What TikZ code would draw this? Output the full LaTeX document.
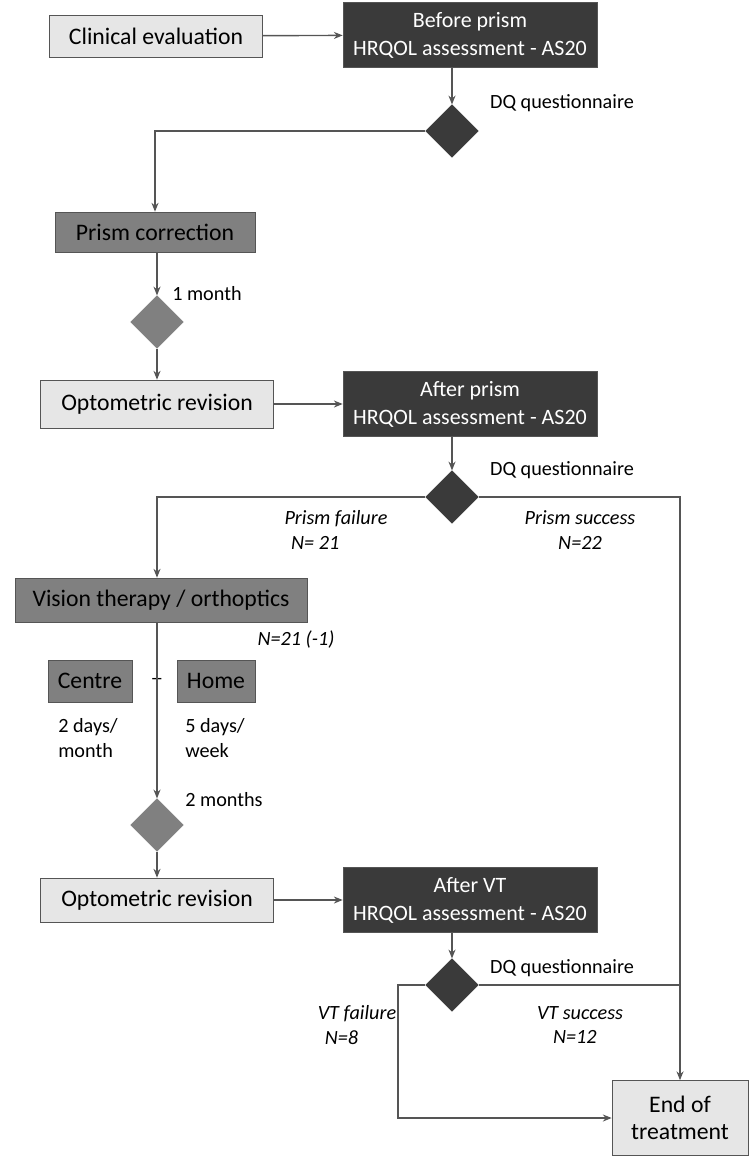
\documentclass[tikz,border=0pt]{standalone}
\usepackage{fontspec}
\setmainfont{Carlito}
\usetikzlibrary{calc, positioning, arrows.meta, shapes.geometric}
\definecolor{lightbox}{HTML}{E6E6E6}
\definecolor{midbox}{HTML}{808080}
\definecolor{darkbox}{HTML}{3A3A3A}
\definecolor{edge}{HTML}{555555}
\begin{document}
\begin{tikzpicture}[
  x=0.02cm, y=-0.02cm,
  light/.style={rectangle, draw=edge, fill=lightbox, font=\fontsize{13.5}{15}\selectfont, inner sep=0pt},
  mid/.style={rectangle, draw=edge, fill=midbox, font=\fontsize{13.5}{15}\selectfont, inner sep=0pt},
  dark/.style={rectangle, draw=edge, fill=darkbox, text=white, font=\fontsize{12.5}{16}\selectfont, align=center, inner sep=0pt, minimum width=5.08cm, minimum height=1.3cm},
  dec/.style={diamond, draw=#1, fill=#1, minimum size=1.05cm, inner sep=0pt},
  lab/.style={font=\fontsize{11.5}{14}\selectfont},
  ilab/.style={font=\fontsize{11.5}{14}\itshape\selectfont, align=center},
  >={Stealth[length=5pt, width=4pt]},
  line/.style={draw=edge, thick}
]
\useasboundingbox (0,0) rectangle (750,1163);

% Top row
\node[light, minimum width=4.26cm, minimum height=0.84cm] (clin) at (156,36) {Clinical evaluation};
\node[dark] (before) at (470,35) {Before prism\\HRQOL assessment - AS20};
\node[dec=darkbox] (d1) at (452,131) {};
\node[lab] at (562,103) {DQ questionnaire};

% Prism correction
\node[mid, minimum width=4cm, minimum height=0.8cm] (prism) at (155,232) {Prism correction};
\node[dec=midbox] (d2) at (157,322) {};
\node[lab] at (207,294) {1 month};
\node[light, minimum width=4.66cm, minimum height=0.96cm] (opt1) at (157,404) {Optometric revision};
\node[dark] (after) at (470,404) {After prism\\HRQOL assessment - AS20};
\node[dec=darkbox] (d3) at (452,497) {};
\node[lab] at (562,470) {DQ questionnaire};
\node[ilab] at (336,530) {Prism failure\\N= 21\phantom{aaaa}};
\node[ilab] at (580,530) {Prism success\\N=22};

% Vision therapy
\node[mid, minimum width=5.84cm, minimum height=0.88cm] (vt) at (161,600) {Vision therapy / orthoptics};
\node[ilab] at (296,640) {N=21 (-1)};
\node[mid, minimum width=1.68cm, minimum height=0.84cm] (centre) at (90,681) {Centre};
\node[lab] at (157,680) {+};
\node[mid, minimum width=1.56cm, minimum height=0.84cm] (home) at (216,681) {Home};
\node[lab, align=left] at (88,738) {2 days/\\month};
\node[lab, align=left] at (215,738) {5 days/\\week};
\node[dec=midbox] (d4) at (157,825) {};
\node[lab] at (224,800) {2 months};
\node[light, minimum width=4.66cm, minimum height=0.88cm] (opt2) at (157,900) {Optometric revision};
\node[dark] (afterVT) at (470,900) {After VT\\HRQOL assessment - AS20};
\node[dec=darkbox] (d5) at (452,985) {};
\node[lab] at (562,968) {DQ questionnaire};
\node[ilab] at (357,1025) {VT failure\\N=8\phantom{aaa}};
\node[ilab] at (580,1025) {VT success\\N=12\phantom{a}};

% End
\node[light, align=center, minimum width=2.72cm, minimum height=1.5cm] (end) at (680,1118) {End of\\treatment};

\coordinate (c1) at (155,131);
\coordinate (c3) at (157,497);
\coordinate (r3) at (680,497);
\coordinate (c5) at (398,985);
\coordinate (r5) at (680,985);
\coordinate (b5) at (398,1118);

% Connectors
\draw[line,->] (clin) -- (before);
\draw[line,->] (before.south -| d1) -- (d1.north);
\draw[line,->] (d1.west) -- (c1) -- (prism.north -| c1);
\draw[line,->] (prism.south -| d2) -- (d2.north);
\draw[line,->] (d2.south) -- (opt1.north);
\draw[line,->] (opt1) -- (after);
\draw[line,->] (after.south -| d3) -- (d3.north);
\draw[line,->] (d3.west) -- (c3) -- (vt.north -| c3);
\draw[line,->] (d3.east) -- (r3) -- (end.north);
\draw[line,->] (vt.south -| d4) -- (d4.north);
\draw[line,->] (d4.south) -- (opt2.north);
\draw[line,->] (opt2) -- (afterVT);
\draw[line,->] (afterVT.south -| d5) -- (d5.north);
\draw[line,->] (d5.west) -- (c5) -- (b5) -- (end.west);
\draw[line] (d5.east) -- (r5);
\end{tikzpicture}
\end{document}
